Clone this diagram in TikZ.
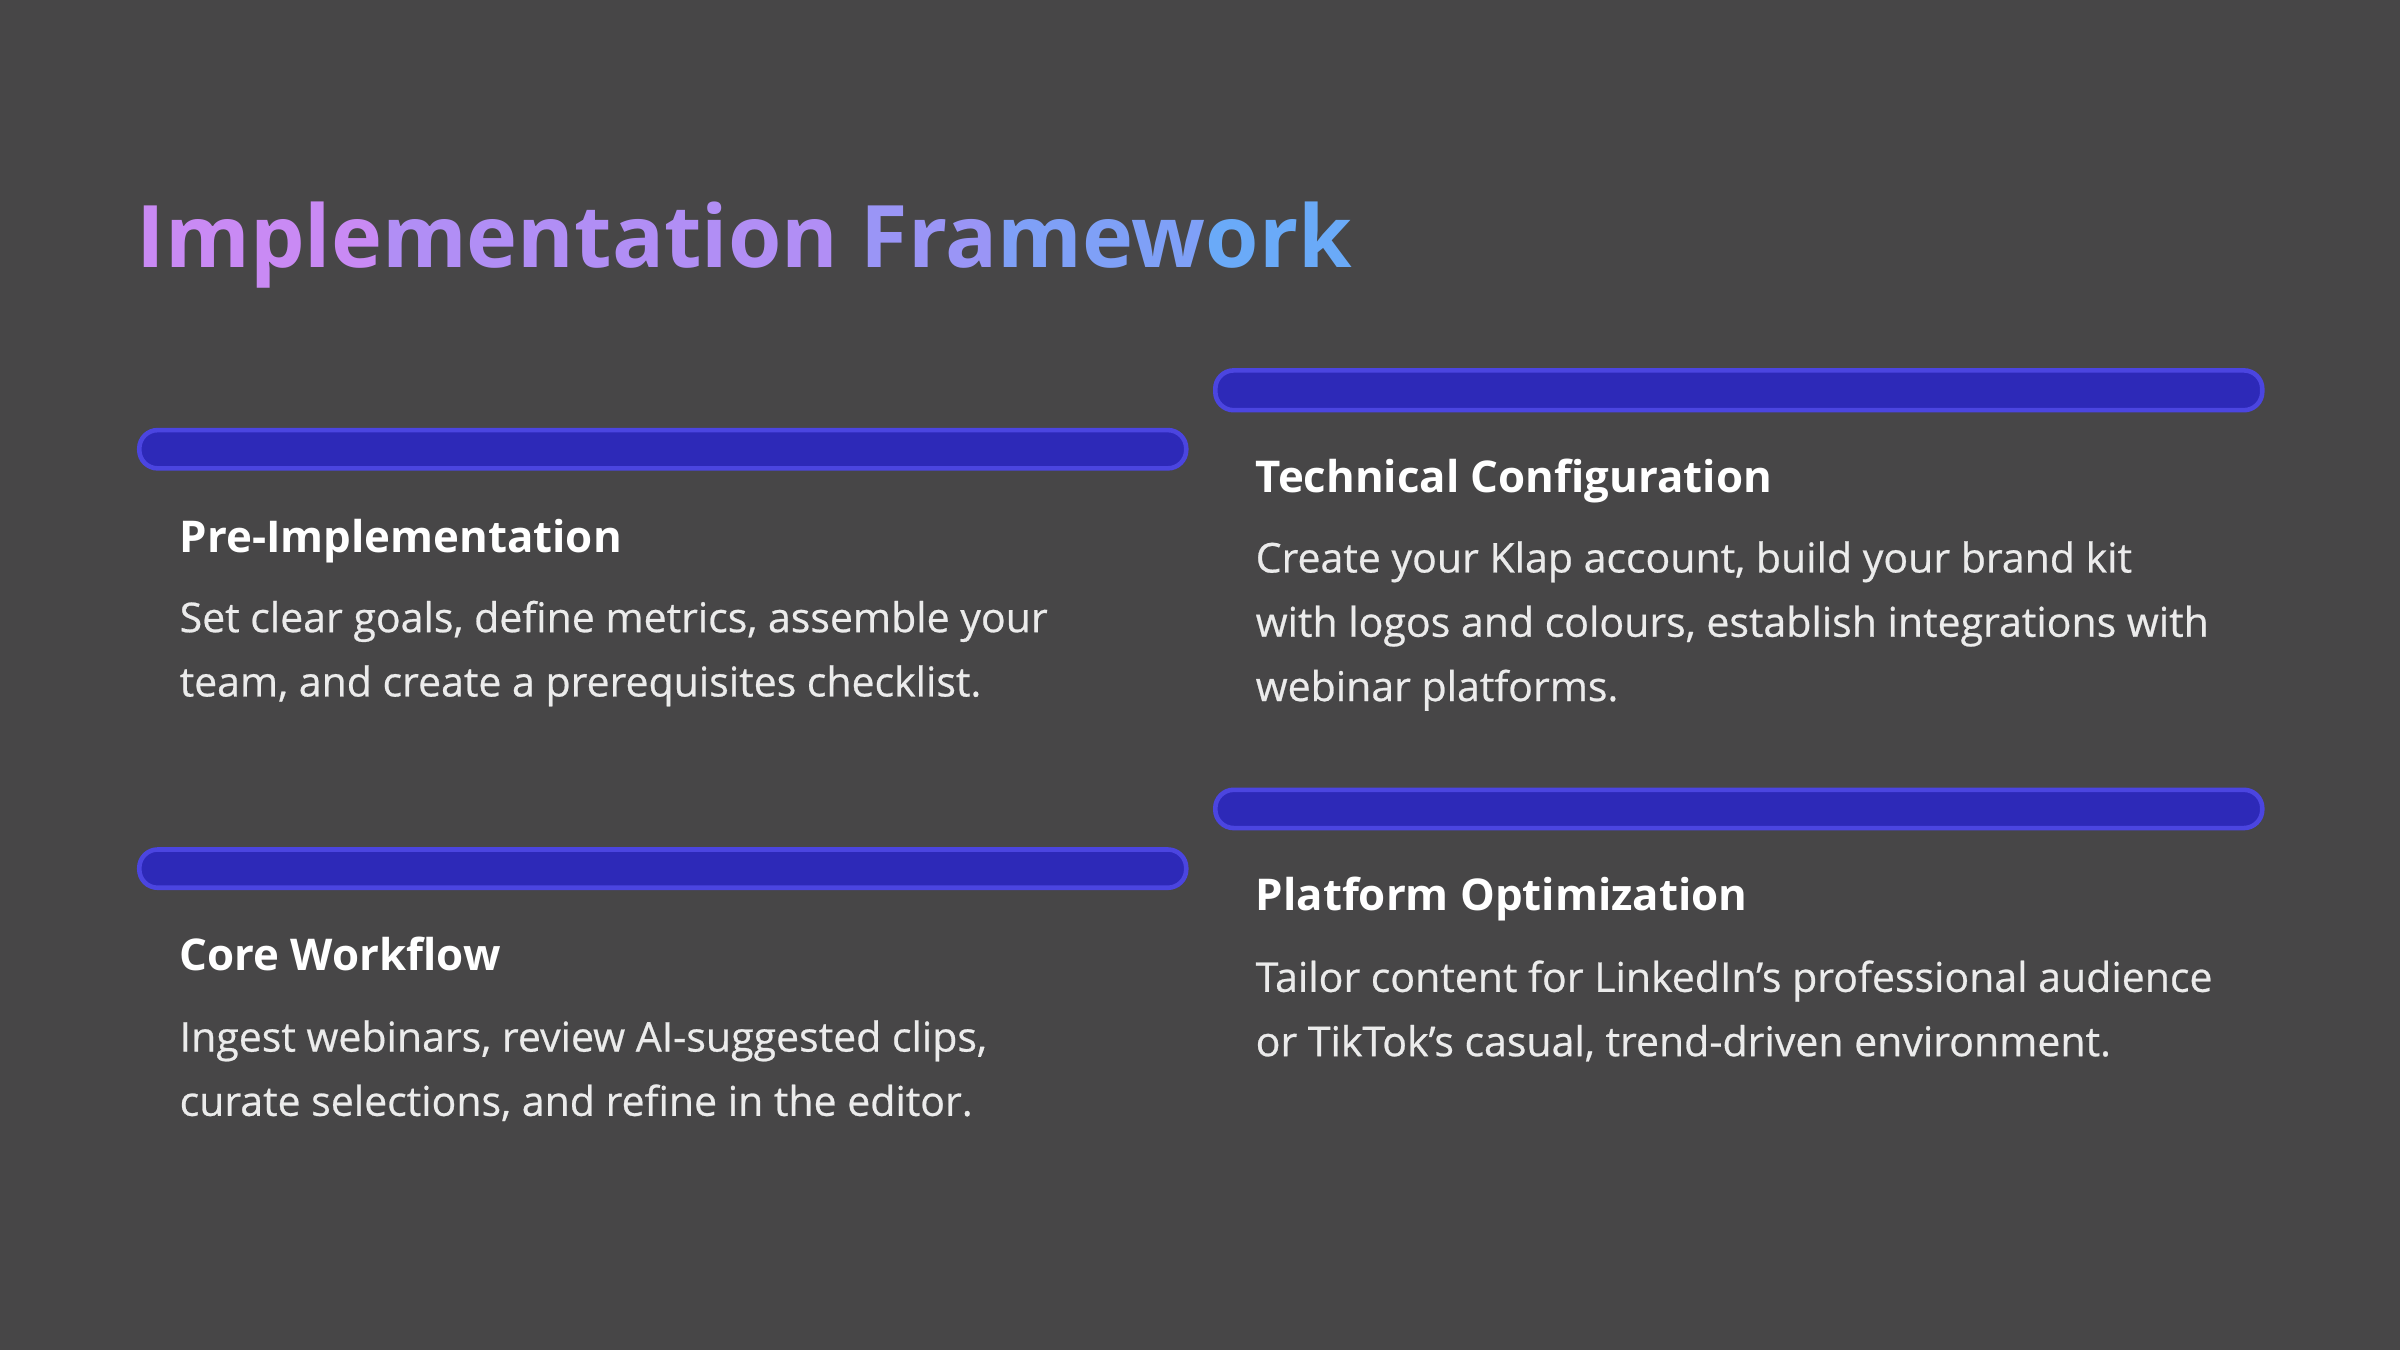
\documentclass[tikz,border=0pt]{standalone}
\usepackage{fontspec}
\setmainfont{Open Sans}
\usetikzlibrary{positioning}
\definecolor{bgc}{HTML}{474647}
\definecolor{barfill}{HTML}{2D29B8}
\definecolor{barline}{HTML}{4B45E0}
\definecolor{tA}{HTML}{C98AF4}
\definecolor{tB}{HTML}{B18EF5}
\definecolor{tC}{HTML}{9A95F6}
\definecolor{tD}{HTML}{7FA0F7}
\definecolor{tE}{HTML}{6AAAF8}
\tikzset{
  bar/.style={fill=barfill,draw=barline,line width=1.5pt,rounded corners=6pt},
  heading/.style={anchor=base west,inner sep=0pt,text=white,font=\fontsize{14.3}{17}\selectfont\bfseries},
  body/.style={anchor=base west,inner sep=0pt,text=white!92!black,align=left,
    font=\fontsize{13.4}{21}\selectfont\addfontfeature{FakeBold=0.6}}
}
\begin{document}
\begin{tikzpicture}[x=0.5pt,y=-0.5pt]
    % fond
    \fill[bgc] (0,0) rectangle (1568,882);
    \useasboundingbox (0,0) rectangle (1568,882);

    % titre
    \node[anchor=base west,inner sep=0pt,font=\fontsize{28.2}{34}\selectfont\bfseries] (title) at (89,175)
      {{\color{tA}Imple}{\color{tB}mentation} {\color{tC}Fra}{\color{tD}mew}{\color{tE}ork}};

    % barres
    \draw[bar] (91,281) rectangle (775,306);
    \draw[bar] (794,242) rectangle (1478,268);
    \draw[bar] (91,555) rectangle (775,580);
    \draw[bar] (794,516) rectangle (1478,541);

    % colonne gauche (base = derniere ligne)
    \node[heading] (pre) at (117,361) {Pre-Implementation};
    \node[body] (pretext) at (117,455) {Set clear goals, define metrics, assemble your\\team, and create a prerequisites checklist.};
    \node[heading] (core) at (117,634) {Core Workflow};
    \node[body] (coretext) at (117,729) {Ingest webinars, review AI-suggested clips,\\curate selections, and refine in the editor.};

    % colonne droite
    \node[heading] (tech) at (820,322) {Technical Configuration};
    \node[body] (techtext) at (820,458) {Create your Klap account, build your brand kit\\with logos and colours, establish integrations with\\webinar platforms.};
    \node[heading] (plat) at (820,595) {Platform Optimization};
    \node[body] (plattext) at (820,690) {Tailor content for LinkedIn's professional audience\\or TikTok's casual, trend-driven environment.};
\end{tikzpicture}
\end{document}
